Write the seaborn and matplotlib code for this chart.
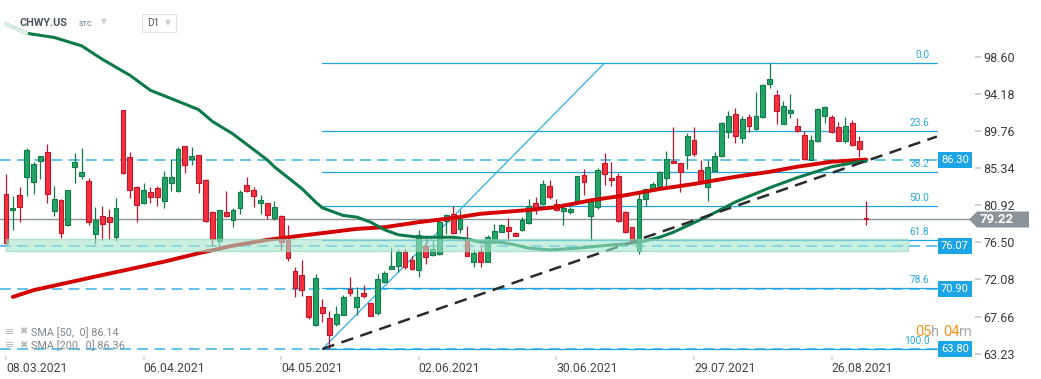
import numpy as np
import pandas as pd
import matplotlib
matplotlib.use("Agg")
import matplotlib.pyplot as plt
import seaborn as sns
from matplotlib.patches import Rectangle, Polygon

# === 1. Datos ===
holidays = ["2021-04-02", "2021-05-31", "2021-07-05"]
dates = pd.bdate_range("2021-03-08", "2021-09-02", freq="C", holidays=holidays)

opens = [82.21, 80.31, 82.09, 84.31, 83.71, 86.14, 87.22, 80.19, 81.50, 78.52,
         85.50, 84.36, 83.76, 77.52, 79.59, 79.47, 77.16, 92.22, 86.62, 83.05,
         81.21, 82.45, 82.93, 81.38, 83.52, 82.57, 87.93, 86.42, 86.86, 83.88,
         80.07, 76.65, 80.07, 79.15, 80.62, 83.29, 82.69, 81.21, 81.14, 79.43,
         79.59, 76.77, 73.08, 72.57, 70.10, 66.70, 68.77, 67.48, 66.76, 67.90,
         70.90, 68.79, 70.42, 69.27, 68.04, 71.77, 73.38, 73.68, 75.34, 74.39,
         73.21, 76.06, 74.95, 75.07, 79.07, 79.87, 78.08, 76.89, 74.16, 75.38,
         74.19, 76.89, 77.76, 78.29, 77.57, 77.96, 78.76, 81.14, 81.02, 83.17,
         81.09, 80.26, 80.07, 81.14, 84.48, 79.67, 80.74, 85.91, 84.12, 84.36,
         80.16, 78.29, 75.50, 81.62, 82.81, 83.12, 84.12, 86.22, 85.94, 86.86,
         88.65, 85.11, 83.12, 85.02, 86.74, 89.67, 91.74, 88.88, 91.38, 90.03,
         91.38, 95.39, 94.01, 90.62, 91.93, 90.31, 89.28, 86.33, 88.60, 91.57,
         91.38, 90.23, 88.60, 90.67, 88.53, 79.36]
highs = [84.60, 82.01, 83.05, 87.69, 86.10, 86.80, 88.20, 83.17, 81.69, 82.75,
         87.13, 87.69, 84.12, 80.67, 80.78, 80.43, 81.77, 92.30, 87.25, 83.17,
         83.52, 83.12, 83.24, 84.99, 86.38, 87.81, 87.97, 87.88, 86.90, 84.00,
         80.26, 80.35, 82.61, 80.55, 82.69, 84.31, 83.05, 82.13, 81.20, 81.38,
         79.71, 78.56, 73.56, 74.39, 70.15, 72.75, 69.78, 68.31, 68.91, 70.22,
         72.33, 71.14, 71.45, 69.30, 72.69, 73.08, 76.00, 75.74, 75.74, 74.87,
         77.96, 77.16, 76.77, 79.24, 79.87, 80.82, 80.35, 78.44, 75.58, 76.06,
         77.34, 78.68, 78.68, 79.36, 77.76, 79.55, 81.62, 81.93, 83.92, 83.92,
         81.65, 81.14, 80.70, 84.40, 85.19, 81.74, 85.31, 87.17, 86.06, 84.72,
         80.22, 78.32, 82.52, 82.93, 83.64, 84.99, 87.37, 90.19, 85.94, 89.48,
         90.19, 86.26, 86.30, 87.22, 90.83, 92.13, 92.46, 91.54, 91.74, 94.40,
         95.32, 97.85, 94.64, 93.33, 94.13, 91.27, 89.75, 89.28, 92.46, 92.73,
         91.66, 90.86, 91.46, 91.06, 89.16, 81.45]
lows = [76.20, 77.96, 78.95, 82.01, 82.25, 84.07, 81.14, 79.67, 77.04, 78.45,
        83.60, 84.07, 78.59, 76.33, 76.74, 76.93, 76.65, 84.60, 81.81, 78.95,
        81.09, 81.21, 80.86, 80.62, 82.64, 82.45, 84.79, 85.70, 82.40, 78.90,
        76.06, 75.90, 79.50, 78.36, 79.91, 82.50, 80.74, 79.91, 79.31, 79.20,
        75.58, 74.26, 70.02, 70.09, 67.36, 66.57, 67.06, 63.80, 66.52, 67.84,
        70.16, 67.83, 69.83, 67.72, 67.84, 71.65, 73.32, 73.00, 73.29, 73.20,
        72.33, 73.88, 74.87, 74.99, 77.48, 77.50, 77.57, 74.87, 73.60, 73.53,
        74.16, 76.77, 77.72, 76.77, 77.24, 77.84, 78.64, 79.83, 80.94, 81.62,
        80.22, 78.59, 79.83, 81.05, 82.13, 76.69, 80.43, 83.32, 83.20, 78.88,
        77.60, 76.45, 75.10, 80.86, 82.73, 83.08, 83.20, 85.94, 82.52, 85.23,
        86.81, 83.44, 81.45, 84.99, 86.66, 88.95, 88.32, 88.32, 89.67, 89.87,
        91.26, 94.91, 90.59, 90.59, 91.34, 89.67, 86.26, 86.30, 88.48, 90.71,
        89.52, 88.57, 88.29, 87.97, 86.64, 78.59]
closes = [76.38, 80.55, 80.67, 87.45, 85.82, 86.74, 82.29, 81.62, 77.57, 82.69,
          86.06, 84.87, 78.95, 79.12, 78.64, 78.88, 80.55, 84.72, 82.69, 80.90,
          82.69, 81.86, 81.86, 84.24, 84.24, 87.57, 85.67, 86.78, 83.52, 78.99,
          76.93, 80.31, 79.59, 80.31, 82.49, 82.57, 81.97, 81.50, 79.71, 80.70,
          76.53, 74.63, 71.02, 70.78, 67.66, 72.26, 68.04, 65.51, 67.92, 69.95,
          70.48, 70.02, 70.13, 67.76, 72.17, 72.81, 73.68, 75.34, 73.53, 73.29,
          77.34, 74.78, 75.66, 78.92, 79.71, 77.57, 79.24, 74.90, 75.19, 74.16,
          77.16, 77.85, 78.56, 77.88, 77.29, 79.15, 80.82, 80.35, 83.41, 81.93,
          80.35, 80.55, 80.46, 84.36, 83.64, 81.65, 85.11, 84.63, 83.92, 79.07,
          77.69, 76.65, 81.62, 82.81, 83.41, 84.84, 86.38, 85.98, 84.91, 89.16,
          86.98, 83.52, 85.43, 86.78, 90.67, 91.50, 89.12, 91.15, 90.38, 91.50,
          95.20, 95.91, 92.17, 92.70, 92.22, 89.79, 86.45, 88.72, 92.34, 92.58,
          89.64, 88.60, 90.35, 88.05, 87.57, 79.22]

# medias moviles (posicion de vela, valor)
sma50_idx = [0, 3, 7, 11, 14, 18, 21, 25, 28, 30, 33, 38, 39, 43, 45, 46, 49, 51,
             53, 55, 57, 60, 62, 65, 67, 69, 72, 74, 76, 79, 83, 88, 90, 92, 95,
             97, 102, 106, 111, 115, 120, 124, 125]
sma50_val = [102.5, 101.4, 100.9, 99.9, 98.3, 96.4, 94.6, 93.3, 92.3, 90.9, 89.4,
             86.3, 85.5, 82.9, 81.3, 80.6, 79.7, 79.5, 78.9, 78.0, 77.4, 77.1,
             77.1, 77.1, 76.9, 76.5, 76.5, 76.2, 75.8, 75.6, 75.8, 76.2, 76.3,
             76.5, 77.1, 77.7, 79.6, 81.3, 83.0, 84.2, 85.5, 86.1, 86.14]
sma200_idx = [1, 4, 9, 14, 18, 23, 28, 33, 38, 43, 51, 55, 60, 65, 69, 76, 80, 85,
              90, 95, 100, 106, 111, 115, 120, 125]
sma200_val = [70.0, 70.8, 71.7, 72.6, 73.3, 74.2, 75.2, 76.1, 76.8, 77.3, 78.1,
              78.3, 78.9, 79.4, 79.9, 80.35, 80.7, 81.5, 82.1, 82.85, 83.45, 84.3,
              84.9, 85.5, 86.1, 86.36]

fib_pcts = [0.0, 23.6, 38.2, 50.0, 61.8, 78.6, 100.0]
fib_top = 97.85
fib_bottom = 63.80
marked_levels = [86.30, 76.07, 70.90, 63.80]
last_price = 79.22
price_ticks = [63.23, 67.66, 72.08, 76.50, 80.92, 85.34, 89.76, 94.18, 98.60]

# === 2. Estilo ===
sns.set_theme(style="white")
plt.rcParams["font.family"] = ["Roboto", "DejaVu Sans"]

W, H = 1041, 379
GREEN, GREEN_EDGE = "#22a466", "#127a4b"
RED, RED_EDGE = "#f4303f", "#bf1629"
BLUE = "#1ba4e6"
DASH_BLUE = "#58bdea"


def fx(px):
    return px / W


def fy(py):
    return 1 - py / H


fig = plt.figure(figsize=(W / 100, H / 100), dpi=100)
ax = fig.add_axes([0, fy(356), fx(975), 356 / H])
ax.set_xlim(-0.87, 140.84)
ax.set_ylim(62.96, 105.36)

df = pd.DataFrame({"open": opens, "high": highs, "low": lows, "close": closes})
df["i"] = np.arange(len(df))
up = df["close"] >= df["open"]

# lineas horizontales punteadas + precio actual
for lvl in marked_levels:
    ax.plot([-0.87, 135.3], [lvl, lvl], color=DASH_BLUE, lw=1.3,
            dashes=(6, 3.5), zorder=1)
ax.axhline(last_price, color="#8c9499", lw=1, zorder=1)

# fibonacci
fib_vals = [fib_top - p / 100 * (fib_top - fib_bottom) for p in fib_pcts]
for p, v in zip(fib_pcts, fib_vals):
    ax.plot([46, 135.3], [v, v], color=BLUE, lw=0.9, zorder=1.5)
    ax.annotate(f"{p:.1f}", (134.2, v), xytext=(0, 2), textcoords="offset points",
                ha="right", va="bottom", fontsize=7.3, color="#2aa8e0", zorder=8)
ax.plot([46, 87], [fib_bottom, fib_top], color="#2eaee6", lw=0.9, zorder=1.5)

# velas
for sub, face, edge in [(df[up], GREEN, GREEN_EDGE), (df[~up], RED, RED_EDGE)]:
    ax.vlines(sub["i"], sub["low"], sub["high"], color=edge, lw=0.9, zorder=2)
    body = (sub["close"] - sub["open"]).abs().clip(lower=0.15)
    bottom = sub[["open", "close"]].min(axis=1)
    ax.bar(sub["i"], body, bottom=bottom, width=0.7, color=face,
           edgecolor=edge, linewidth=0.8, zorder=3)

# medias moviles
sns.lineplot(x=sma200_idx, y=sma200_val, ax=ax, color="#d40000", lw=2.8,
             sort=False, estimator=None, zorder=5)
sns.lineplot(x=sma50_idx, y=sma50_val, ax=ax, color="#0c7a4a", lw=2.2,
             sort=False, estimator=None, zorder=5)
# inicio difuminado de la SMA 50
ax.plot(sma50_idx[:2], sma50_val[:2], color="#d8f0e6", lw=2.4, zorder=5.5)

# linea de tendencia
ax.plot([46, 135.3], [fib_bottom, 89.1], color="#2b2b2b", lw=1.8,
        dashes=(5, 3), zorder=5)

# zona verde
ax.add_patch(Rectangle((0, 75.46), 131.1, 1.38, facecolor="#a6e5cd", alpha=0.6,
                       edgecolor="#86d4b4", lw=1, zorder=6))

# etiquetas azules a la derecha
ytr = ax.get_yaxis_transform()
for lvl in marked_levels:
    ax.text(0.9795, lvl, f"{lvl:.2f}", transform=ytr, ha="center", va="center",
            fontsize=8, color="white", zorder=9,
            bbox=dict(boxstyle="square,pad=0.28", fc=BLUE, ec="none"))

# etiqueta de precio actual
fig.patches.append(Polygon([(fx(969), fy(219.5)), (fx(977), fy(211.5)),
                            (fx(1029), fy(211.5)), (fx(1029), fy(227.5)),
                            (fx(977), fy(227.5))], closed=True,
                           transform=fig.transFigure, fc="#8b9398", ec="none"))
fig.text(fx(997), fy(219.5), f"{last_price:.2f}", ha="center", va="center",
         fontsize=9.5, fontweight="bold", color="white")

# ejes
for s in ax.spines.values():
    s.set_visible(False)
ax.grid(False)
ax.yaxis.tick_right()
ax.set_yticks(price_ticks)
ax.set_yticklabels([f"{t:.2f}" for t in price_ticks])
ax.tick_params(axis="y", length=4, color="#c9c9c9", labelsize=9,
               labelcolor="#3a3a3a", pad=2, right=True)
xt = list(range(0, len(dates), 20))
ax.set_xticks(xt)
ax.set_xticklabels([dates[i].strftime("%d.%m.%Y") for i in xt], ha="left")
ax.tick_params(axis="x", length=3, color="#d5d9dc", labelsize=8.8,
               labelcolor="#454545", pad=1.5, bottom=True)
ax.set_xlabel("")
ax.set_ylabel("")

# cabecera
fig.text(fx(20), fy(23), "CHWY.US", fontsize=7.8, fontweight="bold",
         color="#4a545e", va="center")
fig.text(fx(79), fy(24), "STC", fontsize=5.2, fontweight="bold",
         color="#8796a5", va="center")
fig.text(fx(101), fy(22), "▼", fontsize=5.5, color="#c8cfd6", va="center",
         family=["DejaVu Sans"])
fig.patches.append(Rectangle((fx(142), fy(31.5)), fx(34), 17.5 / H,
                             transform=fig.transFigure, fc="white",
                             ec="#dde2e6", lw=0.8))
fig.text(fx(147), fy(23.5), "D1", fontsize=7.2, color="#4a545e", va="center")
fig.text(fx(164.5), fy(23), "▼", fontsize=5.5, color="#c8cfd6", va="center",
         family=["DejaVu Sans"])

# leyenda
for row, label in [(332.5, "SMA [50,  0] 86.14"), (346, "SMA [200,  0] 86.36")]:
    fig.text(fx(5), fy(row - 1), "≡", fontsize=8, color="#b2b7bc", va="center",
             family=["DejaVu Sans"])
    fig.text(fx(19.5), fy(row - 1), "✖", fontsize=7, color="#b2b7bc",
             va="center", family=["DejaVu Sans"])
    fig.text(fx(31), fy(row), label, fontsize=7.8, color="#80878d", va="center")

# cuenta regresiva
for px, txt, col in [(915, "05", "#f7941d"), (930.5, "h", "#a8a8a8"),
                     (943.5, "04", "#f7941d"), (959, "m", "#a8a8a8")]:
    fig.text(fx(px), fy(332), txt, fontsize=10.5, color=col, va="center")

fig.savefig("out.png", dpi=100)
